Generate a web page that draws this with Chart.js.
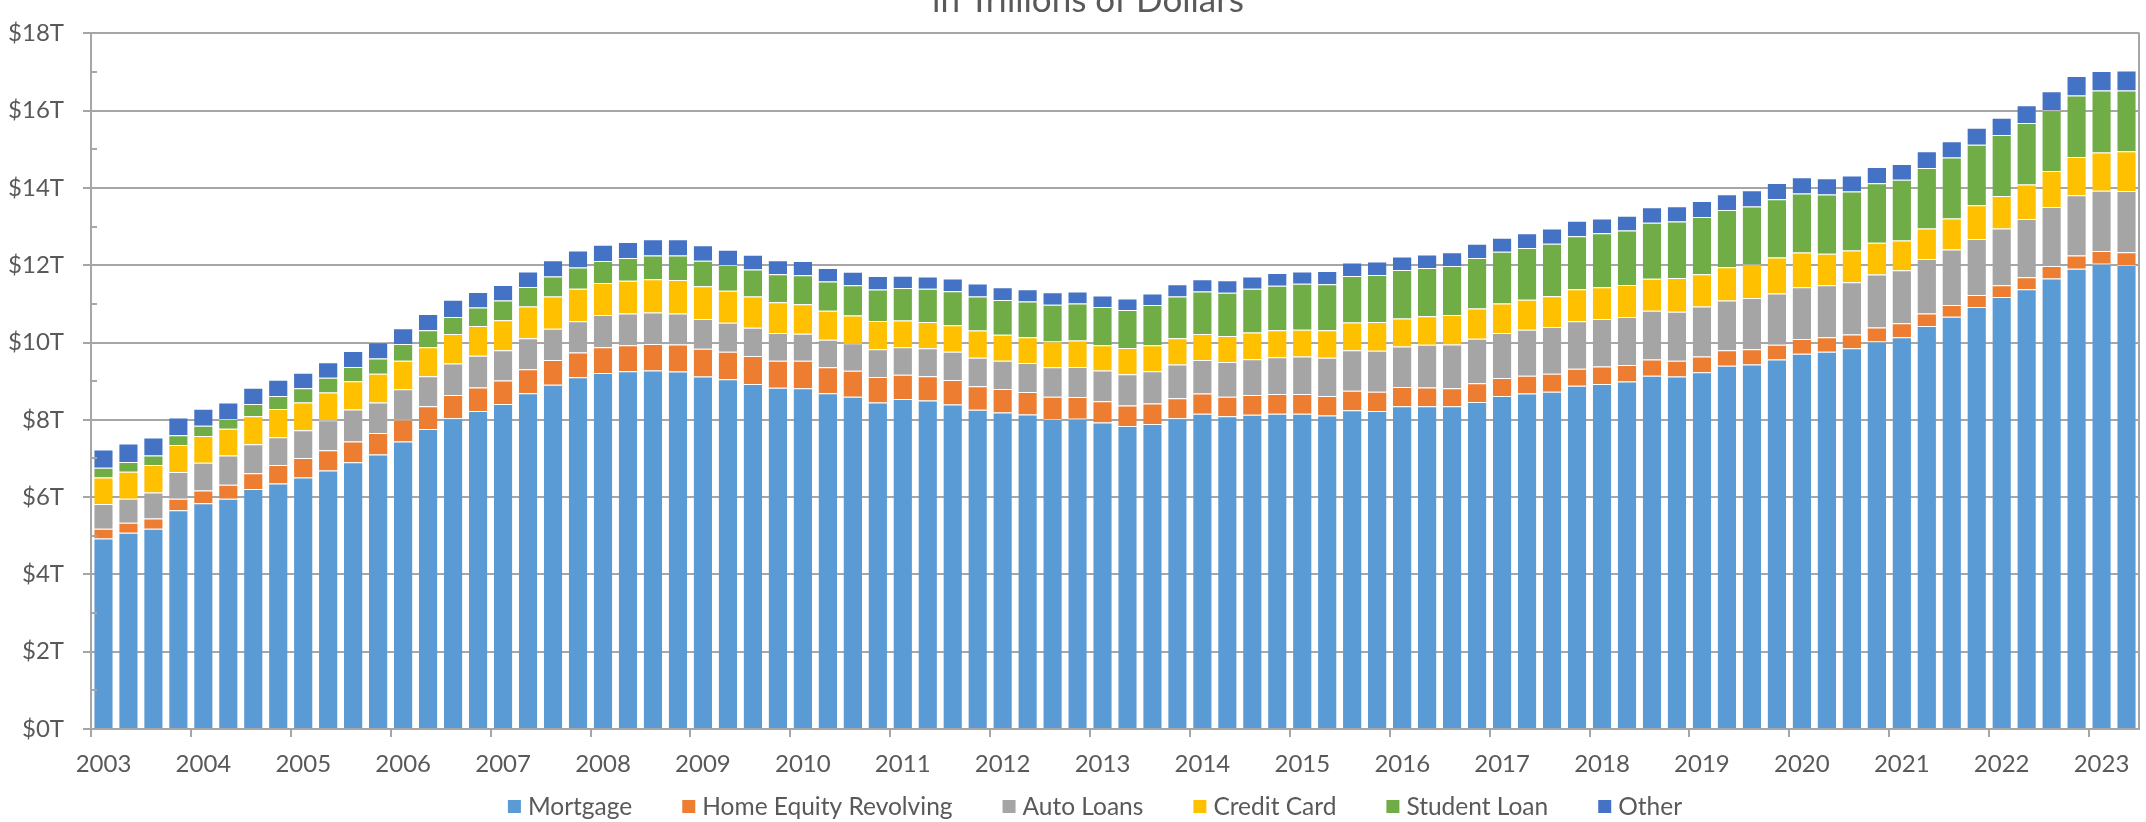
<!DOCTYPE html>
<html>
<head>
<meta charset="utf-8">
<title>Household Debt by Type</title>
<script src="https://cdn.jsdelivr.net/npm/chart.js@4.4.0/dist/chart.umd.min.js"></script>
<style>
  html, body { margin: 0; padding: 0; background: #fff; }
  #wrap { width: 2146px; height: 822px; position: relative; }
</style>
</head>
<body>
<div id="wrap"><canvas id="debt-chart"></canvas></div>
<script>
// quarterly, 2003 Q1 .. 2023 Q2, trillions of dollars
const years = [2003, 2004, 2005, 2006, 2007, 2008, 2009, 2010, 2011, 2012, 2013,
    2014, 2015, 2016, 2017, 2018, 2019, 2020, 2021, 2022, 2023];
const quarters = ['Q1', 'Q2', 'Q3', 'Q4'];

const mortgage = [
    4.93, 5.08, 5.18, 5.66,  5.84, 5.96, 6.21, 6.35,  6.51, 6.69, 6.90, 7.10,
    7.44, 7.76, 8.04, 8.23,  8.41, 8.69, 8.91, 9.10,  9.21, 9.26, 9.28, 9.25,
    9.12, 9.05, 8.93, 8.83,  8.82, 8.69, 8.60, 8.45,  8.54, 8.50, 8.40, 8.26,
    8.19, 8.14, 8.02, 8.03,  7.93, 7.84, 7.89, 8.04,  8.16, 8.09, 8.13, 8.16,
    8.16, 8.11, 8.25, 8.23,  8.35, 8.35, 8.35, 8.46,  8.62, 8.68, 8.73, 8.88,
    8.93, 8.99, 9.14, 9.12,  9.23, 9.40, 9.43, 9.56,  9.71, 9.76, 9.85, 10.03,
    10.14, 10.43, 10.67, 10.92,  11.18, 11.38, 11.66, 11.91,  12.04, 12.01
];
const homeEquity = [
    0.25, 0.26, 0.27, 0.30,  0.33, 0.36, 0.41, 0.48,  0.50, 0.52, 0.54, 0.56,
    0.57, 0.59, 0.60, 0.61,  0.61, 0.62, 0.64, 0.64,  0.67, 0.67, 0.68, 0.70,
    0.72, 0.71, 0.72, 0.70,  0.71, 0.67, 0.67, 0.66,  0.63, 0.63, 0.63, 0.61,
    0.61, 0.58, 0.58, 0.56,  0.55, 0.53, 0.53, 0.52,  0.52, 0.51, 0.51, 0.51,
    0.51, 0.51, 0.50, 0.50,  0.50, 0.49, 0.47, 0.49,  0.46, 0.46, 0.46, 0.44,
    0.45, 0.43, 0.42, 0.41,  0.41, 0.40, 0.40, 0.38,  0.38, 0.38, 0.36, 0.36,
    0.36, 0.32, 0.30, 0.31,  0.30, 0.31, 0.32, 0.34,  0.33, 0.33
];
const autoLoans = [
    0.64, 0.62, 0.67, 0.69,  0.72, 0.76, 0.75, 0.72,  0.72, 0.78, 0.83, 0.79,
    0.78, 0.78, 0.82, 0.82,  0.78, 0.80, 0.81, 0.81,  0.83, 0.82, 0.82, 0.80,
    0.77, 0.75, 0.73, 0.72,  0.70, 0.71, 0.71, 0.72,  0.71, 0.72, 0.73, 0.74,
    0.73, 0.75, 0.76, 0.78,  0.80, 0.81, 0.84, 0.87,  0.87, 0.90, 0.93, 0.95,
    0.97, 0.99, 1.05, 1.06,  1.05, 1.10, 1.13, 1.15,  1.17, 1.19, 1.21, 1.23,
    1.23, 1.24, 1.26, 1.27,  1.29, 1.29, 1.32, 1.33,  1.34, 1.34, 1.35, 1.37,
    1.37, 1.41, 1.44, 1.45,  1.47, 1.51, 1.53, 1.56,  1.56, 1.58
];
const creditCard = [
    0.69, 0.70, 0.71, 0.70,  0.69, 0.69, 0.72, 0.73,  0.72, 0.72, 0.73, 0.74,
    0.74, 0.75, 0.76, 0.77,  0.78, 0.82, 0.83, 0.84,  0.83, 0.85, 0.86, 0.87,
    0.85, 0.83, 0.81, 0.79,  0.76, 0.75, 0.72, 0.73,  0.69, 0.68, 0.69, 0.70,
    0.67, 0.67, 0.67, 0.68,  0.65, 0.68, 0.67, 0.68,  0.67, 0.67, 0.69, 0.70,
    0.69, 0.71, 0.72, 0.74,  0.72, 0.74, 0.76, 0.78,  0.76, 0.78, 0.80, 0.83,
    0.82, 0.83, 0.83, 0.87,  0.84, 0.86, 0.87, 0.93,  0.90, 0.82, 0.82, 0.82,
    0.77, 0.79, 0.80, 0.87,  0.84, 0.89, 0.93, 0.99,  0.99, 1.03
];
const studentLoan = [
    0.25, 0.25, 0.25, 0.25,  0.27, 0.25, 0.32, 0.34,  0.37, 0.38, 0.37, 0.40,
    0.43, 0.44, 0.44, 0.48,  0.51, 0.51, 0.52, 0.55,  0.57, 0.59, 0.61, 0.63,
    0.66, 0.67, 0.70, 0.73,  0.75, 0.76, 0.78, 0.81,  0.84, 0.86, 0.88, 0.88,
    0.90, 0.92, 0.95, 0.96,  0.99, 0.98, 1.04, 1.08,  1.10, 1.12, 1.13, 1.15,
    1.19, 1.19, 1.20, 1.22,  1.26, 1.25, 1.27, 1.31,  1.34, 1.34, 1.36, 1.37,
    1.40, 1.41, 1.45, 1.46,  1.48, 1.48, 1.50, 1.51,  1.53, 1.53, 1.53, 1.54,
    1.57, 1.57, 1.58, 1.57,  1.58, 1.59, 1.57, 1.59,  1.60, 1.57
];
const other = [
    0.47, 0.48, 0.46, 0.46,  0.44, 0.43, 0.42, 0.42,  0.40, 0.40, 0.41, 0.42,
    0.41, 0.42, 0.45, 0.40,  0.40, 0.40, 0.42, 0.44,  0.42, 0.41, 0.42, 0.42,
    0.40, 0.39, 0.38, 0.36,  0.37, 0.35, 0.35, 0.35,  0.32, 0.32, 0.33, 0.34,
    0.33, 0.32, 0.32, 0.31,  0.30, 0.30, 0.30, 0.32,  0.32, 0.32, 0.32, 0.33,
    0.32, 0.34, 0.35, 0.35,  0.35, 0.35, 0.36, 0.37,  0.36, 0.38, 0.39, 0.40,
    0.38, 0.38, 0.40, 0.40,  0.41, 0.41, 0.42, 0.42,  0.42, 0.42, 0.41, 0.42,
    0.41, 0.43, 0.42, 0.44,  0.45, 0.46, 0.49, 0.51,  0.51, 0.52
];

const labels = [];
years.forEach(y => quarters.forEach(q => labels.push(y + ' ' + q)));
labels.length = mortgage.length;

const AXIS_GRAY = '#a6a6a6';
const TEXT_GRAY = '#595959';
const FONT = 'Lato';

// title line (top of it sits above the picture), legend, minor ticks, right border
const extras = {
    id: 'extras',
    afterDraw(chart) {
        const ctx = chart.ctx;
        const area = chart.chartArea;
        const yScale = chart.scales.y;
        ctx.save();

        ctx.strokeStyle = AXIS_GRAY;
        ctx.lineWidth = 2;
        ctx.beginPath();
        for (let v = 1; v < 18; v += 2) {
            const py = Math.round(yScale.getPixelForValue(v));
            ctx.moveTo(area.left, py);
            ctx.lineTo(area.left + 6, py);
        }
        ctx.moveTo(area.right, area.top - 1);
        ctx.lineTo(area.right, area.bottom);
        ctx.stroke();

        ctx.fillStyle = TEXT_GRAY;
        ctx.font = '35px ' + FONT;
        ctx.textAlign = 'center';
        ctx.textBaseline = 'alphabetic';
        ctx.fillText('in Trillions of Dollars', 1088, 12);

        ctx.font = '24.5px ' + FONT;
        ctx.textAlign = 'left';
        ctx.textBaseline = 'middle';
        const box = 13, gap = 7, spacing = 50;
        const items = chart.data.datasets.map(ds => ({
            text: ds.label, color: ds.backgroundColor, w: ctx.measureText(ds.label).width
        }));
        const total = items.reduce((s, it) => s + box + gap + it.w, 0) + spacing * (items.length - 1);
        let x = 1095 - total / 2;
        const y = 806.5;
        items.forEach(it => {
            ctx.fillStyle = it.color;
            ctx.fillRect(x, y - box / 2, box, box);
            ctx.fillStyle = TEXT_GRAY;
            ctx.fillText(it.text, x + box + gap, y + 1);
            x += box + gap + it.w + spacing;
        });
        ctx.restore();
    }
};

function series(label, data, color) {
    return {
        label: label, data: data, backgroundColor: color,
        borderColor: 'rgba(255,255,255,0.45)',
        borderWidth: { top: 1, right: 0, bottom: 0, left: 0 },
        borderSkipped: 'start',
        barPercentage: 0.74, categoryPercentage: 1.0
    };
}

const ctx = document.getElementById('debt-chart').getContext('2d');
new Chart(ctx, {
    type: 'bar',
    data: {
        labels: labels,
        datasets: [
            series('Mortgage', mortgage, '#5b9bd5'),
            series('Home Equity Revolving', homeEquity, '#ed7d31'),
            series('Auto Loans', autoLoans, '#a5a5a5'),
            series('Credit Card', creditCard, '#ffc000'),
            series('Student Loan', studentLoan, '#70ad47'),
            series('Other', other, '#4472c4')
        ]
    },
    options: {
        responsive: true,
        maintainAspectRatio: false,
        animation: false,
        layout: { padding: { top: 18, right: 7, bottom: 43, left: 0 } },
        plugins: {
            legend: { display: false },
            title: { display: false },
            tooltip: { enabled: false }
        },
        scales: {
            x: {
                stacked: true,
                offset: true,
                afterFit: s => { s.height = 50; },
                grid: {
                    offset: true,
                    drawOnChartArea: false,
                    tickLength: 8,
                    lineWidth: 2,
                    color: c => (c.index % 4 === 0 ? AXIS_GRAY : 'rgba(0,0,0,0)')
                },
                border: { color: AXIS_GRAY, width: 2 },
                ticks: {
                    autoSkip: false,
                    maxRotation: 0,
                    padding: 13,
                    color: TEXT_GRAY,
                    font: { family: FONT, size: 24 },
                    callback: function (value, index) {
                        const lab = this.getLabelForValue(value);
                        return lab.endsWith('Q1') ? lab.slice(0, 4) : '';
                    }
                }
            },
            y: {
                stacked: true,
                min: 0,
                max: 18,
                afterFit: s => { s.width = 91; },
                grid: { color: AXIS_GRAY, lineWidth: 2, tickLength: 8 },
                border: { color: AXIS_GRAY, width: 2 },
                ticks: {
                    stepSize: 2,
                    padding: 19,
                    color: TEXT_GRAY,
                    font: { family: FONT, size: 24 },
                    callback: v => '$' + v + 'T'
                }
            }
        }
    },
    plugins: [extras]
});
</script>
</body>
</html>
